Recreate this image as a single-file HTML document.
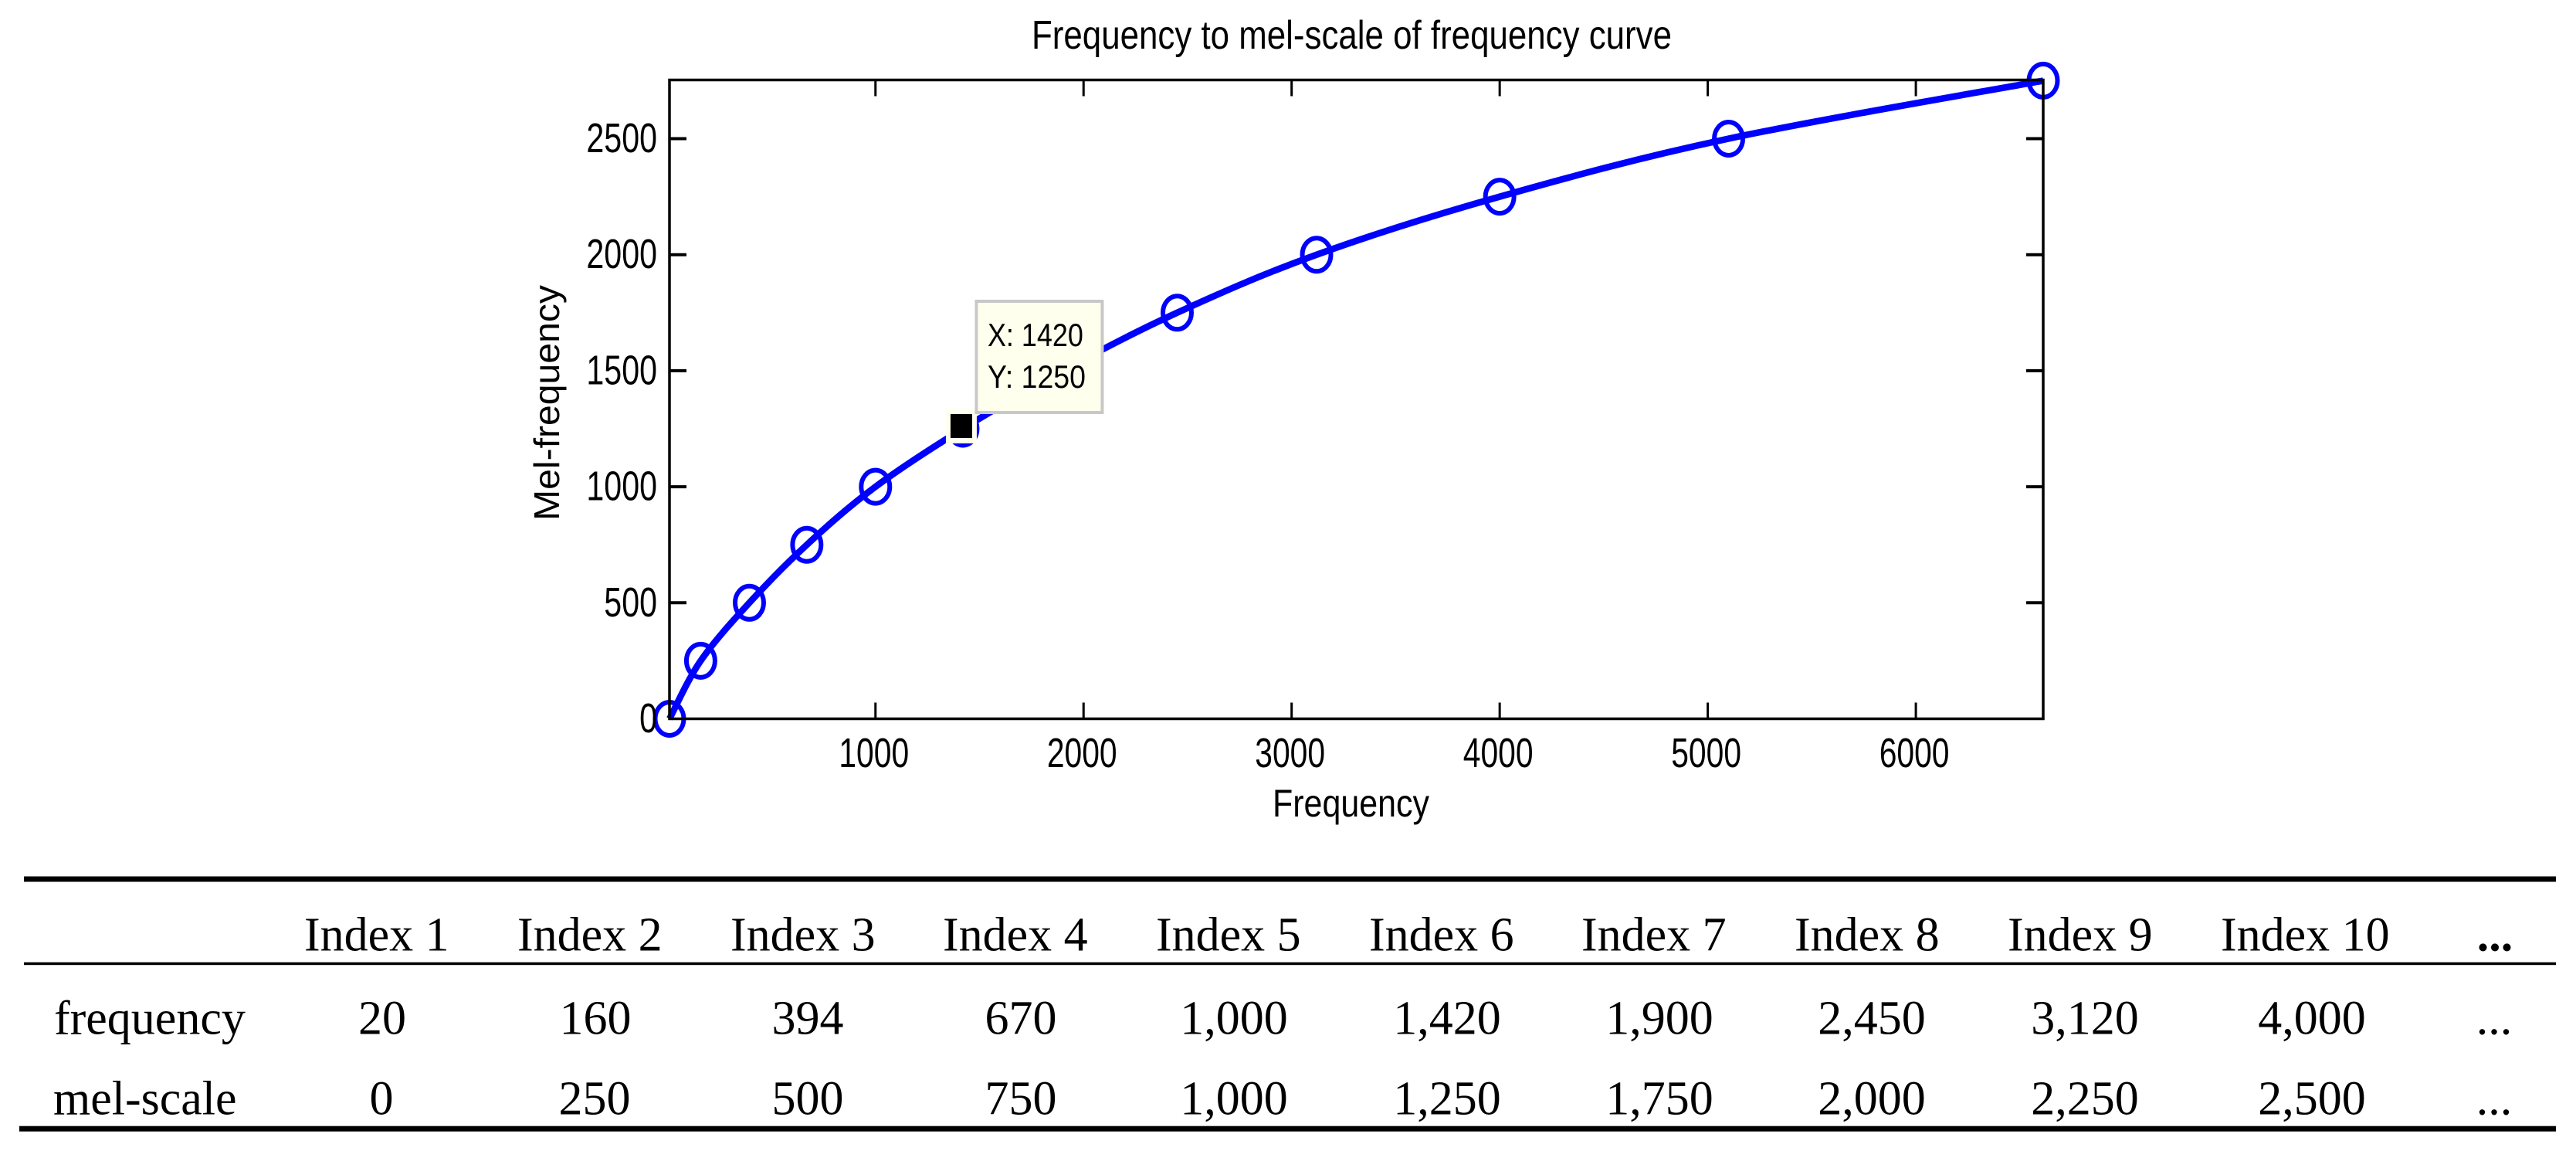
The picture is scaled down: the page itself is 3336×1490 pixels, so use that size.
<!DOCTYPE html>
<html lang="en">
<head>
<meta charset="utf-8">
<title>Frequency to mel-scale of frequency curve</title>
<style>
html,body{margin:0;padding:0;background:#fff;width:3336px;height:1490px;overflow:hidden}
svg{display:block}
.s{font-family:"Liberation Sans",sans-serif;fill:#000}
.t{font-family:"Liberation Serif",serif;font-size:62px;fill:#000}
.m{text-anchor:middle}
</style>
</head>
<body>
<svg id="figure" xmlns="http://www.w3.org/2000/svg" width="3336" height="1490" viewBox="0 0 3336 1490">
  <rect x="0" y="0" width="3336" height="1490" fill="#fff"/>
  <text class="s" x="1336" y="63" font-size="52" textLength="829" lengthAdjust="spacingAndGlyphs">Frequency to mel-scale of frequency curve</text>
  <text class="s" x="1648" y="1057" font-size="50" textLength="203" lengthAdjust="spacingAndGlyphs">Frequency</text>
  <text class="s" transform="translate(724 674) rotate(-90)" font-size="46" textLength="305" lengthAdjust="spacingAndGlyphs">Mel-frequency</text>

  <g id="series"></g>
  <g id="axes"></g>

  <g id="datatip">
    <rect x="-22" y="-26" width="40" height="45" fill="#ffffee"/>
    <rect x="-16" y="-19" width="28" height="31" fill="#000"/>
    <rect x="17.5" y="-165" width="163" height="144" fill="#ffffee" stroke="#c8c8c8" stroke-width="4"/>
    <text class="s" x="32" y="-107" font-size="42" textLength="124" lengthAdjust="spacingAndGlyphs">X: 1420</text>
    <text class="s" x="32" y="-53" font-size="42" textLength="127" lengthAdjust="spacingAndGlyphs">Y: 1250</text>
  </g>

  <g>
    <rect x="31" y="1134.5" width="3279" height="7" fill="#000"/>
    <rect x="31" y="1245.7" width="3279" height="3.5" fill="#000"/>
    <rect x="25" y="1457.7" width="3285" height="7" fill="#000"/>

    <g>
      <text class="t" x="394" y="1230.5">Index 1</text>
      <text class="t" x="670" y="1230.5">Index 2</text>
      <text class="t" x="946" y="1230.5">Index 3</text>
      <text class="t" x="1221" y="1230.5">Index 4</text>
      <text class="t" x="1497" y="1230.5">Index 5</text>
      <text class="t" x="1773" y="1230.5">Index 6</text>
      <text class="t" x="2048" y="1230.5">Index 7</text>
      <text class="t" x="2324" y="1230.5">Index 8</text>
      <text class="t" x="2600" y="1230.5">Index 9</text>
      <text class="t" x="2876" y="1230.5">Index 10</text>
      <text class="t m" x="3231" y="1230.5" font-weight="bold">...</text>
    </g>

    <g>
      <text class="t" x="70" y="1338.5">frequency</text>
      <text class="t m" x="495" y="1338.5">20</text>
      <text class="t m" x="771" y="1338.5">160</text>
      <text class="t m" x="1046" y="1338.5">394</text>
      <text class="t m" x="1322" y="1338.5">670</text>
      <text class="t m" x="1598" y="1338.5">1,000</text>
      <text class="t m" x="1874" y="1338.5">1,420</text>
      <text class="t m" x="2149" y="1338.5">1,900</text>
      <text class="t m" x="2424" y="1338.5">2,450</text>
      <text class="t m" x="2700" y="1338.5">3,120</text>
      <text class="t m" x="2994" y="1338.5">4,000</text>
      <text class="t m" x="3230" y="1338.5">...</text>
    </g>

    <g>
      <text class="t" x="69" y="1442.5">mel-scale</text>
      <text class="t m" x="494" y="1442.5">0</text>
      <text class="t m" x="770" y="1442.5">250</text>
      <text class="t m" x="1046" y="1442.5">500</text>
      <text class="t m" x="1322" y="1442.5">750</text>
      <text class="t m" x="1598" y="1442.5">1,000</text>
      <text class="t m" x="1874" y="1442.5">1,250</text>
      <text class="t m" x="2149" y="1442.5">1,750</text>
      <text class="t m" x="2424" y="1442.5">2,000</text>
      <text class="t m" x="2700" y="1442.5">2,250</text>
      <text class="t m" x="2994" y="1442.5">2,500</text>
      <text class="t m" x="3230" y="1442.5">...</text>
    </g>
  </g>
</svg>
<script>
var frequencyValues = [10, 160, 394, 670, 1000, 1420, 1900, 2450, 3120, 4000, 5100, 6612];
var melValues = [0, 250, 500, 750, 1000, 1250, 1500, 1750, 2000, 2250, 2500, 2750];
var xTickValues = [1000, 2000, 3000, 4000, 5000, 6000];
var yTickValues = [0, 500, 1000, 1500, 2000, 2500];
var xTickLabels = ['1000', '2000', '3000', '4000', '5000', '6000'];
var yTickLabels = ['0', '500', '1000', '1500', '2000', '2500'];
var tipIndex = 5;

var SVGNS = 'http://www.w3.org/2000/svg';
var plotLeft = 867, plotRight = 2646, plotTop = 103.5, plotBottom = 930.5;
var xDomainMin = 10, xDomainMax = 6612, yDomainMin = 0, yDomainMax = 2753;

function xScale(v) {
  return plotLeft + (v - xDomainMin) * (plotRight - plotLeft) / (xDomainMax - xDomainMin);
}
function yScale(v) {
  return plotBottom - (v - yDomainMin) * (plotBottom - plotTop) / (yDomainMax - yDomainMin);
}
function make(tag, parent) {
  var el = document.createElementNS(SVGNS, tag);
  parent.appendChild(el);
  return el;
}
function setAll(el, props) {
  for (var k in props) { el.setAttribute(k, props[k]); }
}

var seriesGroup = document.getElementById('series');
var axesGroup = document.getElementById('axes');

/* curve through the data points (Catmull-Rom smoothing) */
var pts = frequencyValues.map(function (f, i) { return [xScale(f), yScale(melValues[i])]; });
var d = 'M' + pts[0][0] + ' ' + pts[0][1];
for (var i = 0; i < pts.length - 1; i++) {
  var p0 = pts[Math.max(i - 1, 0)], p1 = pts[i], p2 = pts[i + 1], p3 = pts[Math.min(i + 2, pts.length - 1)];
  d += ' C' + (p1[0] + (p2[0] - p0[0]) / 6) + ' ' + (p1[1] + (p2[1] - p0[1]) / 6) + ' ' +
       (p2[0] - (p3[0] - p1[0]) / 6) + ' ' + (p2[1] - (p3[1] - p1[1]) / 6) + ' ' + p2[0] + ' ' + p2[1];
}
var curve = make('path', seriesGroup);


setAll(curve, { d: d, fill: 'none', stroke: '#0000ff', 'stroke-width': 8.5 });

/* circle markers */
frequencyValues.forEach(function (f, i) {
  var marker = make('ellipse', seriesGroup);
  
  
  setAll(marker, { cx: xScale(f), cy: yScale(melValues[i]), rx: 18.5, ry: 21.5, fill: 'none', stroke: '#0000ff', 'stroke-width': 6 });
});

/* plot box */
var plotFrame = make('rect', axesGroup);


setAll(plotFrame, { x: plotLeft, y: plotTop, width: plotRight - plotLeft, height: plotBottom - plotTop, fill: 'none', stroke: '#000', 'stroke-width': 3.5 });

/* x ticks and labels */
xTickValues.forEach(function (v, i) {
  var x = xScale(v);
  var tickBottom = make('line', axesGroup);
  
  
  setAll(tickBottom, { x1: x, x2: x, y1: plotBottom, y2: plotBottom - 21, stroke: '#000', 'stroke-width': 3 });
  var tickTop = make('line', axesGroup);
  
  
  setAll(tickTop, { x1: x, x2: x, y1: plotTop, y2: plotTop + 21, stroke: '#000', 'stroke-width': 3 });
  var label = make('text', axesGroup);
  
  
  setAll(label, { x: x - 2, y: 993, 'font-size': 54, 'text-anchor': 'middle', class: 's', textLength: xTickLabels[i].length * 22.7, lengthAdjust: 'spacingAndGlyphs' });
  label.textContent = xTickLabels[i];
});

/* y ticks and labels */
yTickValues.forEach(function (v, i) {
  var y = yScale(v);
  if (v !== 0) {
    var tickLeft = make('line', axesGroup);
    
    
    setAll(tickLeft, { x1: plotLeft, x2: plotLeft + 22, y1: y, y2: y, stroke: '#000', 'stroke-width': 4 });
    var tickRight = make('line', axesGroup);
    
    
    setAll(tickRight, { x1: plotRight, x2: plotRight - 22, y1: y, y2: y, stroke: '#000', 'stroke-width': 4 });
  }
  var label = make('text', axesGroup);
  
  
  setAll(label, { x: 851, y: y + 17.5, 'font-size': 54, 'text-anchor': 'end', class: 's', textLength: yTickLabels[i].length * 22.9, lengthAdjust: 'spacingAndGlyphs' });
  label.textContent = yTickLabels[i];
});

/* data tip anchored on its data point */
document.getElementById('datatip').setAttribute('transform',
  'translate(' + xScale(frequencyValues[tipIndex]) + ' ' + yScale(melValues[tipIndex]) + ')');
</script>
</body>
</html>
